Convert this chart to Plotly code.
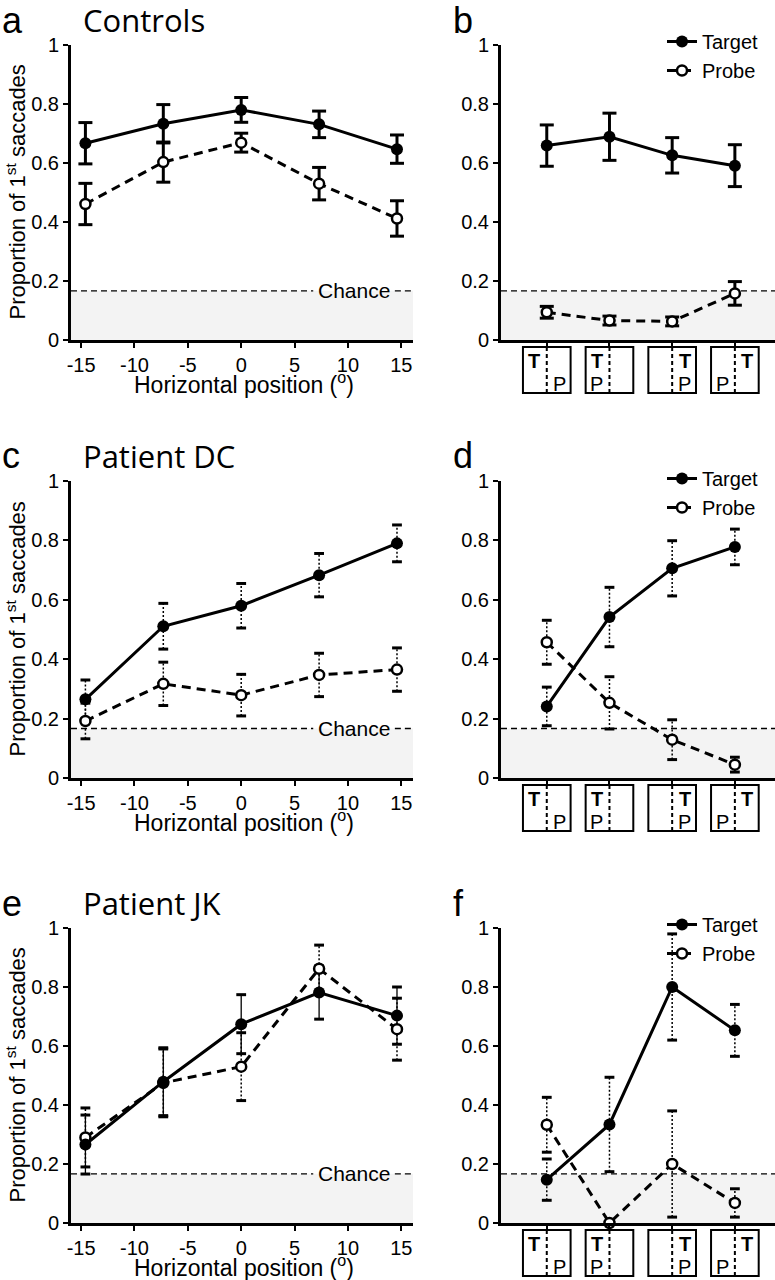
import plotly.graph_objects as go

W, H = 775, 1280

# ---------------- data ----------------
positions = [-14.6, -7.3, 0, 7.3, 14.6]
x_ticks = [-15, -10, -5, 0, 5, 10, 15]
x_ticktext = ['-15', '-10', '-5', '0', '5', '10', '15']
y_ticks = [0, 0.2, 0.4, 0.6, 0.8, 1]
y_ticktext = ['0', '0.2', '0.4', '0.6', '0.8', '1']
conditions = [1, 2, 3, 4]
cond_T_side = ['L', 'L', 'R', 'R']
cond_P_side = ['R', 'L', 'R', 'L']
chance = 1 / 6

ctrl_target = [0.667, 0.733, 0.780, 0.731, 0.647]
ctrl_target_err = [0.07, 0.065, 0.042, 0.045, 0.048]
ctrl_probe = [0.461, 0.603, 0.669, 0.530, 0.412]
ctrl_probe_err = [0.07, 0.068, 0.032, 0.055, 0.06]

ctrl_cond_target = [0.659, 0.689, 0.626, 0.591]
ctrl_cond_target_err = [0.07, 0.08, 0.06, 0.071]
ctrl_cond_probe = [0.094, 0.066, 0.063, 0.158]
ctrl_cond_probe_err = [0.02, 0.015, 0.015, 0.04]

dc_target = [0.265, 0.511, 0.580, 0.683, 0.790]
dc_target_err = [0.065, 0.077, 0.075, 0.073, 0.062]
dc_probe = [0.192, 0.317, 0.279, 0.347, 0.365]
dc_probe_err = [0.06, 0.073, 0.07, 0.073, 0.073]

dc_cond_target = [0.241, 0.542, 0.706, 0.778]
dc_cond_target_err = [0.065, 0.1, 0.093, 0.06]
dc_cond_probe = [0.457, 0.253, 0.129, 0.045]
dc_cond_probe_err = [0.074, 0.088, 0.067, 0.025]

jk_target = [0.266, 0.479, 0.674, 0.781, 0.703]
jk_target_err = [0.1, 0.115, 0.1, 0.09, 0.097]
jk_probe = [0.29, 0.475, 0.53, 0.862, 0.657]
jk_probe_err = [0.1, 0.115, 0.115, 0.08, 0.105]

jk_cond_target = [0.147, 0.334, 0.800, 0.653]
jk_cond_target_err = [0.07, 0.16, 0.18, 0.088]
jk_cond_probe = [0.333, 0.0, 0.2, 0.068]
jk_cond_probe_err = [0.093, 0.0, 0.18, 0.048]

panel_titles = ['Controls', 'Patient DC', 'Patient JK']
panel_letters = ['a', 'b', 'c', 'd', 'e', 'f']

# ---------------- layout geometry (pixels) ----------------
FONT = 'Liberation Sans, Arial, Helvetica, sans-serif'
TFONT = 'Open Sans, Noto Sans, sans-serif'
LEFT_X = (71, 413)
RIGHT_X = (501, 775)
ROWS = [(45, 340), (481, 778), (928, 1223)]
LEFT_RANGE = [-15.95, 16.1]
RIGHT_RANGE = [0.27, 4.64]


def px_x(p):
    return p / W


def px_y(p):
    return 1 - p / H


fig = go.Figure()

panels = [
    (1, 'pos', positions, ctrl_target, ctrl_target_err, ctrl_probe, ctrl_probe_err, 'thick', 'thick'),
    (2, 'cond', conditions, ctrl_cond_target, ctrl_cond_target_err, ctrl_cond_probe, ctrl_cond_probe_err, 'thick', 'thick'),
    (3, 'pos', positions, dc_target, dc_target_err, dc_probe, dc_probe_err, 'dot', 'dot'),
    (4, 'cond', conditions, dc_cond_target, dc_cond_target_err, dc_cond_probe, dc_cond_probe_err, 'dot', 'dot'),
    (5, 'pos', positions, jk_target, jk_target_err, jk_probe, jk_probe_err, 'thin', 'dot'),
    (6, 'cond', conditions, jk_cond_target, jk_cond_target_err, jk_cond_probe, jk_cond_probe_err, 'dot', 'dot'),
]

legend_names = {2: 'legend', 4: 'legend2', 6: 'legend3'}


def add_errorbars(ax, xs, ys, errs, style):
    xa = 'x' if ax == 1 else f'x{ax}'
    ya = 'y' if ax == 1 else f'y{ax}'
    lx, ly, cx, cy = [], [], [], []
    for x, y, e in zip(xs, ys, errs):
        if e <= 0:
            continue
        lx += [x, x, None]
        ly += [y - e, y + e, None]
        cx += [x, x]
        cy += [y - e, y + e]
    if style == 'thick':
        lw, dash, cap, capw = 3, 'solid', 10, 3
    elif style == 'thin':
        lw, dash, cap, capw = 1.3, 'solid', 7, 3
    else:
        lw, dash, cap, capw = 1.5, '2px,2px', 7, 3
    fig.add_trace(go.Scatter(x=lx, y=ly, mode='lines', xaxis=xa, yaxis=ya,
                             line=dict(color='black', width=lw, dash=dash),
                             showlegend=False, hoverinfo='skip', cliponaxis=False))
    fig.add_trace(go.Scatter(x=cx, y=cy, mode='markers', xaxis=xa, yaxis=ya,
                             marker=dict(symbol='line-ew', size=cap, line=dict(color='black', width=capw)),
                             showlegend=False, hoverinfo='skip', cliponaxis=False))


for (ax, kind, xs, tgt, terr, prb, perr, tstyle, pstyle) in panels:
    xa = 'x' if ax == 1 else f'x{ax}'
    ya = 'y' if ax == 1 else f'y{ax}'
    add_errorbars(ax, xs, prb, perr, pstyle)
    add_errorbars(ax, xs, tgt, terr, tstyle)
    show = ax in legend_names
    lg = legend_names.get(ax, 'legend')
    fig.add_trace(go.Scatter(x=xs, y=prb, mode='lines+markers', name='Probe', xaxis=xa, yaxis=ya,
                             line=dict(color='black', width=3, dash='9px,6px'),
                             marker=dict(symbol='circle', size=10, color='white',
                                         line=dict(color='black', width=2.5)),
                             showlegend=show, legend=lg, legendrank=2, cliponaxis=False))
    fig.add_trace(go.Scatter(x=xs, y=tgt, mode='lines+markers', name='Target', xaxis=xa, yaxis=ya,
                             line=dict(color='black', width=3),
                             marker=dict(symbol='circle', size=12, color='black'),
                             showlegend=show, legend=lg, legendrank=1, cliponaxis=False))

# ---------------- axes ----------------
axis_common = dict(showline=True, linewidth=3, linecolor='black', ticks='outside',
                   ticklen=5, tickwidth=2, tickcolor='black', showgrid=False, zeroline=False,
                   automargin=False,
                   tickfont=dict(family=FONT, size=20, color='black'))

layout_axes = {}
for i in range(6):
    ax = i + 1
    row = i // 2
    is_left = (i % 2 == 0)
    xr = LEFT_X if is_left else RIGHT_X
    yr = ROWS[row]
    xkey = 'xaxis' if ax == 1 else f'xaxis{ax}'
    ykey = 'yaxis' if ax == 1 else f'yaxis{ax}'
    yanchor = 'y' if ax == 1 else f'y{ax}'
    xanchor = 'x' if ax == 1 else f'x{ax}'
    if is_left:
        xcfg = dict(domain=[px_x(xr[0]), px_x(xr[1])], range=LEFT_RANGE, anchor=yanchor,
                    tickmode='array', tickvals=x_ticks, ticktext=x_ticktext, **axis_common)
    else:
        xcfg = dict(domain=[px_x(xr[0]), px_x(xr[1])], range=RIGHT_RANGE, anchor=yanchor,
                    tickmode='array', tickvals=conditions, showticklabels=False, **axis_common)
    ycfg = dict(domain=[px_y(yr[1]), px_y(yr[0])], range=[0, 1], anchor=xanchor,
                tickmode='array', tickvals=y_ticks, ticktext=y_ticktext, **axis_common)
    layout_axes[xkey] = xcfg
    layout_axes[ykey] = ycfg

shapes = []
annotations = []

for i in range(6):
    ax = i + 1
    row = i // 2
    is_left = (i % 2 == 0)
    xa = 'x' if ax == 1 else f'x{ax}'
    ya = 'y' if ax == 1 else f'y{ax}'
    rng = LEFT_RANGE if is_left else RIGHT_RANGE
    shapes.append(dict(type='rect', xref=xa, yref=ya, x0=rng[0], x1=rng[1], y0=0, y1=chance,
                       fillcolor='#f3f3f3', line=dict(width=0), layer='below'))
    if is_left:
        segs = [(rng[0], 6.75), (14.4, rng[1])]
    else:
        segs = [(rng[0], rng[1])]
    for s0, s1 in segs:
        shapes.append(dict(type='line', xref=xa, yref=ya, x0=s0, x1=s1, y0=chance, y1=chance,
                           line=dict(color='black', width=1.3, dash='6px,4px'), layer='below'))
    y0, y1 = ROWS[row]
    if is_left:
        annotations.append(dict(text='Chance', x=10.6, y=chance, xref=xa, yref=ya, showarrow=False,
                                font=dict(family=FONT, size=21, color='black'),
                                xanchor='center', yanchor='middle'))
        annotations.append(dict(text='Proportion of 1<sup>st</sup> saccades', x=px_x(15), y=px_y((y0 + y1) / 2),
                                xref='paper', yref='paper', showarrow=False, textangle=-90,
                                font=dict(family=FONT, size=22, color='black'),
                                xanchor='center', yanchor='middle'))
        annotations.append(dict(text='Horizontal position (<sup>o</sup>)', x=px_x(244), y=px_y(y1 + 43),
                                xref='paper', yref='paper', showarrow=False,
                                font=dict(family=FONT, size=23, color='black'),
                                xanchor='center', yanchor='middle'))
        annotations.append(dict(text=panel_titles[row], x=px_x(81), y=px_y(y0 - 25),
                                xref='paper', yref='paper', showarrow=False,
                                font=dict(family=TFONT, size=31, color='black'),
                                xanchor='left', yanchor='middle'))
        annotations.append(dict(text=panel_letters[i], x=0, y=px_y(y0 - 25),
                                xref='paper', yref='paper', showarrow=False,
                                font=dict(family=FONT, size=36, color='black'),
                                xanchor='left', yanchor='middle'))
    else:
        annotations.append(dict(text=panel_letters[i], x=px_x(451), y=px_y(y0 - 25),
                                xref='paper', yref='paper', showarrow=False,
                                font=dict(family=FONT, size=36, color='black'),
                                xanchor='left', yanchor='middle'))
        btop = y1 + 7
        bbot = y1 + 53
        for c, tside, pside in zip(conditions, cond_T_side, cond_P_side):
            shapes.append(dict(type='rect', xref=xa, yref='paper', x0=c - 0.38, x1=c + 0.38,
                               y0=px_y(bbot), y1=px_y(btop), line=dict(color='black', width=2)))
            shapes.append(dict(type='line', xref=xa, yref='paper', x0=c, x1=c,
                               y0=px_y(bbot), y1=px_y(btop), line=dict(color='black', width=2, dash='4px,3px')))
            tx = c - 0.2 if tside == 'L' else c + 0.2
            px_ = c - 0.2 if pside == 'L' else c + 0.2
            annotations.append(dict(text='<b>T</b>', x=tx, y=px_y(btop + 14), xref=xa, yref='paper',
                                    showarrow=False, font=dict(family=FONT, size=20, color='black'),
                                    xanchor='center', yanchor='middle'))
            annotations.append(dict(text='P', x=px_, y=px_y(btop + 37), xref=xa, yref='paper',
                                    showarrow=False, font=dict(family=FONT, size=20, color='black'),
                                    xanchor='center', yanchor='middle'))

leg_common = dict(xanchor='left', yanchor='top', bgcolor='rgba(0,0,0,0)', borderwidth=0,
                  font=dict(family=FONT, size=20, color='black'), tracegroupgap=0,
                  itemwidth=30, traceorder='normal')

fig.update_layout(
    width=W, height=H, margin=dict(l=0, r=0, t=0, b=0, autoexpand=False),
    paper_bgcolor='white', plot_bgcolor='rgba(0,0,0,0)',
    shapes=shapes, annotations=annotations,
    legend=dict(x=px_x(662), y=px_y(22), **leg_common),
    legend2=dict(x=px_x(662), y=px_y(459), **leg_common),
    legend3=dict(x=px_x(662), y=px_y(905), **leg_common),
    **layout_axes,
)

fig.write_html('out.html', config={'displayModeBar': False},
               post_script="document.body.style.margin='0px';")
